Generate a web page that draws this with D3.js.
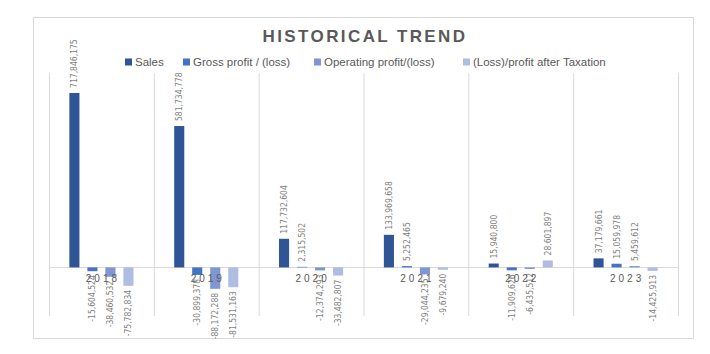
<!DOCTYPE html>
<html>
<head>
<meta charset="utf-8">
<script src="https://cdn.jsdelivr.net/npm/d3@7"></script>
<style>
  body { margin: 0; background: #fff; }
  svg { display: block; font-family: "Liberation Sans", Arial, sans-serif; }
</style>
</head>
<body>
<div id="chart"></div>
<script>
(() => {
const width = 710, height = 354;

// data
const years = ["2018", "2019", "2020", "2021", "2022", "2023"];
const series = ["Sales", "Gross profit / (loss)", "Operating profit/(loss)", "(Loss)/profit after Taxation"];
const sales     = [717846175, 581734778, 117732604, 133969658, 15940800, 37179661];
const gross     = [-15604524, -30899378, 2315502, 5252465, -11909626, 15059978];
const operating = [-38460532, -88172288, -12374293, -29044235, -6435512, 5459612];
const afterTax  = [-75782834, -81531163, -33482807, -9679240, 28601897, -14425913];
const colors = ["#2f5597", "#4472c4", "#7f96d2", "#b0bde3"];

const values = [sales, gross, operating, afterTax];
const rows = years.map((y, i) => ({
    year: y,
    vals: series.map((s, j) => ({ key: s, value: values[j][i], color: colors[j] }))
}));

const svg = d3.select("#chart").append("svg")
    .attr("width", width).attr("height", height);

// chart border
svg.append("rect")
    .attr("x", 33.5).attr("y", 17.5)
    .attr("width", 660).attr("height", 321)
    .attr("fill", "#fff")
    .attr("stroke", "#d9d9d9");

const plot = { left: 49, right: 678, top: 73, bottom: 316 };

const x0 = d3.scaleBand().domain(years).range([plot.left, plot.right]);
const x1 = d3.scaleBand().domain(series)
    .range([0, x0.bandwidth()])
    .paddingInner(0.44).paddingOuter(1.13);
const y = d3.scaleLinear().domain([-200e6, 800e6]).range([plot.bottom, plot.top]);

// vertical category gridlines
svg.append("g")
    .selectAll("line")
    .data(years.map(d => x0(d)).concat([plot.right]))
    .join("line")
    .attr("x1", d => d + 0.5).attr("x2", d => d + 0.5)
    .attr("y1", plot.top).attr("y2", plot.bottom)
    .attr("stroke", "#d9d9d9");

// zero line
svg.append("line")
    .attr("x1", plot.left).attr("x2", plot.right)
    .attr("y1", Math.round(y(0)) + 0.5).attr("y2", Math.round(y(0)) + 0.5)
    .attr("stroke", "#d9d9d9");

// plain hyphen for negatives, like the source
const fmt = d3.formatLocale({ decimal: ".", thousands: ",", grouping: [3], currency: ["", ""], minus: "-" }).format(",");

const groups = svg.append("g")
    .selectAll("g")
    .data(rows)
    .join("g")
    .attr("transform", d => `translate(${x0(d.year)},0)`);

groups.selectAll("rect")
    .data(d => d.vals)
    .join("rect")
    .attr("x", d => x1(d.key))
    .attr("width", x1.bandwidth())
    .attr("y", d => y(Math.max(0, d.value)))
    .attr("height", d => Math.abs(y(d.value) - y(0)))
    .attr("fill", d => d.color);

// year labels
svg.append("g")
    .selectAll("text")
    .data(years)
    .join("text")
    .attr("x", d => x0(d) + x0.bandwidth() / 2 + 1.5)
    .attr("y", y(0) + 15)
    .attr("text-anchor", "middle")
    .attr("fill", "#595959")
    .style("font-size", "10px")
    .style("letter-spacing", "3px")
    .text(d => d);

// data labels
groups.selectAll("text")
    .data(d => d.vals)
    .join("text")
    .attr("transform", d => {
        const cx = x1(d.key) + x1.bandwidth() / 2;
        const cy = d.value >= 0 ? y(d.value) - 5 : y(d.value) + 4;
        return `translate(${cx},${cy}) rotate(-90)`;
    })
    .attr("text-anchor", d => d.value >= 0 ? "start" : "end")
    .attr("dy", "0.35em")
    .attr("fill", "#7f7f7f")
    .style("font-family", "'Liberation Sans Narrow', 'DejaVu Sans Condensed', sans-serif")
    .style("font-size", "8.5px")
    .text(d => fmt(d.value));

// title
svg.append("text")
    .attr("x", 365).attr("y", 42)
    .attr("text-anchor", "middle")
    .attr("fill", "#595959")
    .style("font-size", "17px")
    .style("font-weight", "bold")
    .style("letter-spacing", "2.4px")
    .text("HISTORICAL TREND");

// legend (item offsets as laid out in the source)
const legendX = [0, 58, 189, 338];
const legend = svg.append("g").attr("transform", "translate(125,62)");
series.forEach((s, i) => {
    const item = legend.append("g").attr("transform", `translate(${legendX[i]},0)`);
    item.append("rect")
        .attr("x", 0).attr("y", -3.5)
        .attr("width", 7).attr("height", 7)
        .attr("fill", colors[i]);
    item.append("text")
        .attr("x", 10).attr("dy", "0.35em")
        .attr("fill", "#595959")
        .style("font-size", "11.5px")
        .text(s);
});
})();
</script>
</body>
</html>
